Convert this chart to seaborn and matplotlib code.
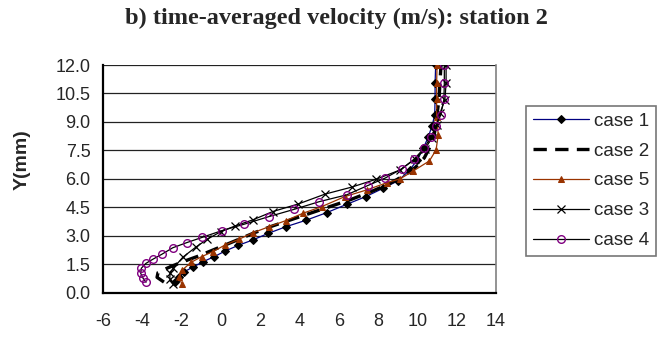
import matplotlib
matplotlib.use("Agg")
import matplotlib.pyplot as plt
import seaborn as sns
import numpy as np

sns.set_style("white")
plt.rcParams['font.family'] = ['Liberation Sans', 'DejaVu Sans']
plt.rcParams['axes.unicode_minus'] = False

labels = ["case 1", "case 2", "case 5", "case 3", "case 4"]

case1_x = [-2.35, -2.15, -1.86, -1.44, -0.90, -0.34, 0.22, 0.89, 1.62, 2.41, 3.31, 4.33, 5.38, 6.40,
           7.38, 8.26, 9.03, 9.6, 10.0, 10.3, 10.55, 10.75, 10.88, 10.9, 10.9, 10.93]
case1_y = [0.55, 0.82, 1.10, 1.33, 1.63, 1.89, 2.19, 2.49, 2.77, 3.12, 3.47, 3.81, 4.21, 4.65,
           5.06, 5.50, 5.90, 6.45, 7.0, 7.6, 8.2, 8.8, 9.37, 10.2, 11.05, 12.0]

case2_x = [-2.9, -3.25, -3.2, -2.7, -2.0, -1.2, -0.5, 0.2, 0.9, 1.7, 2.6, 3.6, 4.6, 5.6, 6.6,
           7.6, 8.5, 9.3, 9.9, 10.35, 10.65, 10.85, 10.95, 11.0, 11.1, 11.15, 11.2]
case2_y = [0.55, 0.8, 1.05, 1.3, 1.6, 1.9, 2.2, 2.5, 2.8, 3.15, 3.5, 3.85, 4.2, 4.55, 4.9,
           5.3, 5.7, 6.15, 6.6, 7.1, 7.7, 8.3, 8.9, 9.4, 10.2, 11.1, 12.0]

case5_x = [-1.99, -2.11, -1.96, -1.52, -0.98, -0.42, 0.22, 0.92, 1.65, 2.45, 3.30, 4.20, 5.13, 6.31,
           7.42, 8.47, 9.11, 9.79, 10.61, 10.95, 11.06, 10.98, 10.98, 10.98, 11.0]
case5_y = [0.43, 0.83, 1.19, 1.59, 1.89, 2.15, 2.51, 2.81, 3.16, 3.47, 3.79, 4.19, 4.53, 5.06,
           5.41, 5.80, 5.99, 6.41, 6.94, 7.52, 8.31, 9.28, 10.2, 11.07, 12.0]

case3_x = [-2.42, -2.6, -2.59, -2.42, -1.94, -1.28, -0.69, -0.01, 0.72, 1.62, 2.64, 3.94, 5.30,
           6.66, 7.89, 9.11, 9.88, 10.39, 10.73, 10.98, 11.15, 11.40, 11.46, 11.46]
case3_y = [0.43, 0.72, 1.01, 1.28, 1.86, 2.39, 2.81, 3.21, 3.51, 3.83, 4.27, 4.67, 5.19,
           5.56, 5.97, 6.46, 7.03, 7.57, 8.14, 8.84, 9.46, 10.16, 11.04, 12.0]

case4_x = [-3.81, -3.98, -4.08, -4.05, -3.81, -3.47, -3.0, -2.45, -1.74, -0.95, 0.04, 1.18, 2.43,
           3.74, 5.0, 6.40, 7.47, 8.35, 9.20, 9.84, 10.34, 10.69, 10.95, 11.19, 11.35, 11.37, 11.37]
case4_y = [0.54, 0.78, 1.01, 1.28, 1.54, 1.75, 2.02, 2.36, 2.63, 2.91, 3.26, 3.60, 4.00,
           4.39, 4.79, 5.15, 5.64, 6.03, 6.52, 7.04, 7.61, 8.21, 8.79, 9.37, 10.20, 11.07, 12.0]

x_ticks = [-6, -4, -2, 0, 2, 4, 6, 8, 10, 12, 14]
y_ticks = [0.0, 1.5, 3.0, 4.5, 6.0, 7.5, 9.0, 10.5, 12.0]

fig = plt.figure(figsize=(6.58, 3.41), dpi=100)
ax = fig.add_axes([103/658, 1-292.5/341, (496-103)/658, (292.5-65)/341])

for yv in y_ticks:
    ax.axhline(yv, color='#222222', lw=0.9, zorder=0)

sns.lineplot(x=case1_x, y=case1_y, sort=False, estimator=None, ax=ax, color='#000080', lw=0.9,
             marker='D', markersize=4, markerfacecolor='black', markeredgecolor='black', label=labels[0])
sns.lineplot(x=case2_x, y=case2_y, sort=False, estimator=None, ax=ax, color='black', lw=2.4,
             dashes=False, label=labels[1], linestyle=(0, (4, 2.5)))
sns.lineplot(x=case5_x, y=case5_y, sort=False, estimator=None, ax=ax, color='#993300', lw=0.9,
             marker='^', markersize=5, markerfacecolor='#993300', markeredgecolor='#993300', label=labels[2])
sns.lineplot(x=case3_x, y=case3_y, sort=False, estimator=None, ax=ax, color='black', lw=0.9,
             marker='x', markersize=6, markeredgewidth=0.9, markeredgecolor='black', label=labels[3])
sns.lineplot(x=case4_x, y=case4_y, sort=False, estimator=None, ax=ax, color='black', lw=0.9,
             marker='o', markersize=5.5, markerfacecolor='none', markeredgecolor='#800080',
             markeredgewidth=1.0, label=labels[4])

ax.set_xlim(-6, 14)
ax.set_ylim(0, 12)
ax.set_xticks(x_ticks)
ax.set_yticks(y_ticks)
ax.set_yticklabels([f"{v:.1f}" for v in y_ticks])
ax.tick_params(axis='both', labelsize=13, direction='out', length=5, width=1, color='#555555', pad=4)
ax.tick_params(axis='x', pad=10)
ax.set_xlabel("")
ax.set_ylabel("")
for s in ['left', 'bottom']:
    ax.spines[s].set_color('black')
    ax.spines[s].set_linewidth(1.6)
ax.spines['right'].set_color('#808080')
ax.spines['right'].set_linewidth(1.2)
ax.spines['top'].set_visible(False)

ax.legend_.remove()
handles, labs = ax.get_legend_handles_labels()
leg = fig.legend(handles, labs, loc='upper left', bbox_to_anchor=(526/658, 1-106/341),
                 frameon=True, fontsize=13.5, handlelength=3.0, handletextpad=0.3,
                 labelspacing=0.68, borderpad=0.35, borderaxespad=0, fancybox=False)
leg.get_frame().set_edgecolor('#555555')
leg.get_frame().set_linewidth(1.2)

fig.text(336/658, 1-18/341, "b) time-averaged velocity (m/s): station 2", ha='center', va='center',
         fontsize=17.5, fontweight='bold', family=['Liberation Serif', 'DejaVu Serif'])
fig.text(22/658, 1-160/341, "Y(mm)", rotation=90, ha='center', va='center', fontsize=14, fontweight='bold')

fig.savefig("out.png", dpi=100)
